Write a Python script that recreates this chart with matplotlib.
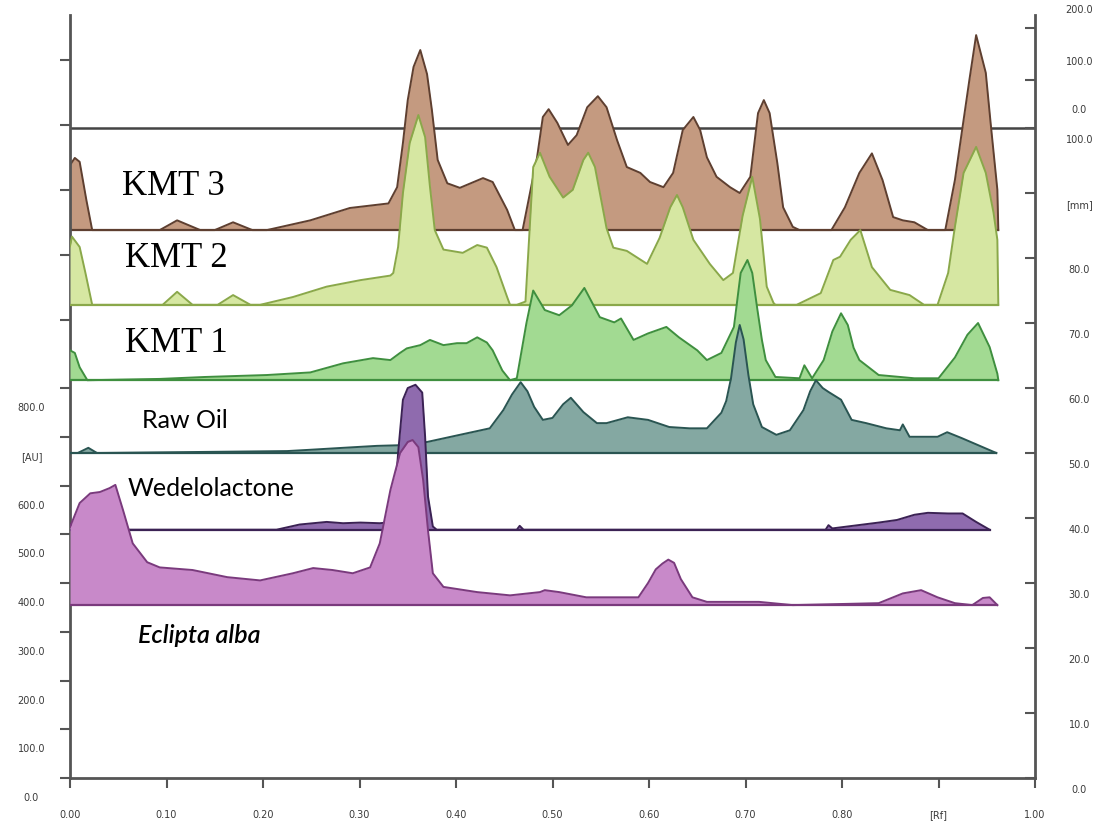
import numpy as np
import matplotlib
matplotlib.use("Agg")
import matplotlib.pyplot as plt

# Rf positions and peak heights (mm above each track's baseline)
kmt3_rf = [0.000, 0.005, 0.010, 0.017, 0.023, 0.093, 0.111, 0.135, 0.150, 0.169, 0.189, 0.204,
           0.249, 0.290, 0.330, 0.339, 0.345, 0.350, 0.356, 0.363, 0.370, 0.375, 0.381, 0.391,
           0.404, 0.428, 0.438, 0.453, 0.461, 0.469, 0.484, 0.490, 0.496, 0.505, 0.516, 0.525,
           0.536, 0.547, 0.556, 0.567, 0.577, 0.591, 0.601, 0.615, 0.625, 0.635, 0.646, 0.653,
           0.660, 0.670, 0.684, 0.694, 0.705, 0.713, 0.719, 0.725, 0.733, 0.739, 0.749, 0.756,
           0.789, 0.803, 0.818, 0.831, 0.842, 0.853, 0.863, 0.875, 0.889, 0.907, 0.917, 0.924,
           0.932, 0.939, 0.949, 0.954, 0.961, 0.962]
kmt3_h = [10.0, 11.1, 10.5, 4.6, 0.0, 0.0, 1.5, 0.0, 0.0, 1.2, 0.0, 0.0,
          1.5, 3.4, 4.1, 6.6, 13.4, 20.0, 25.1, 27.7, 24.0, 18.5, 10.8, 7.2,
          6.5, 8.0, 7.4, 3.1, 0.0, 0.0, 11.2, 17.4, 18.6, 16.5, 13.1, 14.6,
          18.9, 20.6, 18.9, 13.8, 9.7, 8.8, 7.4, 6.6, 8.8, 15.4, 17.4, 15.4,
          11.2, 8.2, 6.6, 5.7, 8.2, 18.0, 20.0, 18.0, 10.3, 3.5, 0.5, 0.0,
          0.0, 3.5, 8.8, 11.8, 7.7, 2.0, 1.5, 1.2, 0.0, 0.0, 7.7, 14.9,
          23.1, 30.0, 24.2, 16.5, 6.2, 0.0]

kmt2_rf = [0.000, 0.002, 0.010, 0.016, 0.023, 0.096, 0.111, 0.127, 0.153, 0.169, 0.187, 0.197,
           0.231, 0.266, 0.301, 0.332, 0.335, 0.340, 0.345, 0.352, 0.361, 0.368, 0.373, 0.378,
           0.387, 0.407, 0.422, 0.432, 0.442, 0.453, 0.456, 0.463, 0.472, 0.480, 0.487, 0.497,
           0.511, 0.521, 0.532, 0.537, 0.544, 0.556, 0.563, 0.577, 0.598, 0.611, 0.622, 0.629,
           0.635, 0.646, 0.663, 0.677, 0.687, 0.697, 0.707, 0.715, 0.722, 0.729, 0.731, 0.753,
           0.778, 0.791, 0.798, 0.809, 0.819, 0.831, 0.850, 0.870, 0.885, 0.899, 0.910, 0.917,
           0.926, 0.939, 0.949, 0.957, 0.961, 0.962]
kmt2_h = [9.0, 10.5, 8.9, 4.9, 0.0, 0.0, 2.0, 0.0, 0.0, 1.5, 0.0, 0.0,
          1.2, 2.8, 3.8, 4.5, 4.9, 8.9, 17.2, 24.9, 29.2, 25.8, 18.2, 11.5,
          8.5, 8.0, 9.2, 8.8, 5.8, 1.2, 0.0, 0.0, 0.5, 21.2, 23.4, 19.7,
          16.5, 17.7, 22.3, 23.4, 21.2, 11.8, 8.8, 8.3, 6.3, 10.3, 15.0, 16.9,
          15.0, 10.0, 6.3, 3.8, 4.9, 13.7, 19.7, 13.2, 2.8, 0.3, 0.0, 0.0,
          1.8, 6.9, 7.4, 10.0, 11.5, 5.8, 2.3, 1.5, 0.0, 0.0, 4.9, 12.0,
          20.3, 24.3, 20.3, 14.2, 10.0, 0.0]

kmt1_rf = [0.000, 0.005, 0.010, 0.018, 0.093, 0.140, 0.204, 0.249, 0.283, 0.314, 0.332, 0.342,
           0.349, 0.363, 0.373, 0.387, 0.401, 0.411, 0.422, 0.432, 0.438, 0.448, 0.456, 0.463,
           0.473, 0.480, 0.492, 0.507, 0.520, 0.533, 0.549, 0.564, 0.571, 0.584, 0.599, 0.618,
           0.631, 0.650, 0.660, 0.675, 0.688, 0.695, 0.702, 0.707, 0.712, 0.717, 0.721, 0.731,
           0.756, 0.761, 0.769, 0.781, 0.790, 0.799, 0.806, 0.812, 0.818, 0.838, 0.875, 0.900,
           0.917, 0.930, 0.941, 0.953, 0.961, 0.962]
kmt1_h = [4.6, 4.2, 2.0, 0.0, 0.2, 0.5, 0.8, 1.2, 2.6, 3.4, 3.1, 4.2,
          4.9, 5.4, 6.2, 5.4, 5.7, 5.7, 6.6, 5.8, 4.6, 1.5, 0.0, 0.3,
          8.8, 13.8, 10.8, 10.0, 11.5, 14.2, 9.7, 8.9, 9.5, 6.2, 7.2, 8.2,
          6.6, 4.6, 3.1, 4.2, 8.2, 16.5, 18.5, 16.5, 11.2, 6.2, 3.1, 0.5,
          0.3, 2.3, 0.3, 3.1, 7.5, 10.3, 8.5, 5.0, 3.1, 0.8, 0.3, 0.3,
          3.5, 7.0, 8.8, 5.1, 1.0, 0.0]

raw_rf = [0.000, 0.008, 0.019, 0.028, 0.225, 0.249, 0.283, 0.318, 0.342, 0.370, 0.404, 0.435,
          0.449, 0.458, 0.467, 0.474, 0.481, 0.490, 0.500, 0.511, 0.519, 0.532, 0.546, 0.556,
          0.578, 0.599, 0.621, 0.642, 0.660, 0.675, 0.680, 0.685, 0.690, 0.694, 0.698, 0.703,
          0.708, 0.717, 0.732, 0.746, 0.760, 0.767, 0.773, 0.780, 0.786, 0.799, 0.810, 0.825,
          0.846, 0.860, 0.863, 0.870, 0.899, 0.909, 0.924, 0.960]
raw_h = [0.0, 0.0, 0.8, 0.0, 0.3, 0.5, 0.8, 1.1, 1.2, 1.7, 2.8, 3.8,
         6.6, 9.0, 10.9, 9.5, 7.1, 5.1, 5.4, 7.5, 8.5, 6.3, 4.6, 4.6,
         5.5, 5.1, 4.0, 3.8, 3.8, 6.2, 8.0, 11.5, 17.0, 19.7, 17.5, 12.0,
         7.5, 4.0, 2.8, 3.5, 6.6, 9.5, 11.2, 10.0, 9.4, 8.2, 5.1, 4.6,
         3.8, 3.5, 4.4, 2.5, 2.5, 3.2, 2.3, 0.0]

wed_rf = [0.000, 0.005, 0.214, 0.238, 0.266, 0.283, 0.301, 0.321, 0.335, 0.340, 0.345, 0.350,
          0.358, 0.365, 0.368, 0.371, 0.376, 0.380, 0.463, 0.466, 0.470, 0.783, 0.786, 0.790,
          0.838, 0.857, 0.875, 0.889, 0.910, 0.925, 0.939, 0.953]
wed_h = [0.8, 0.0, 0.0, 0.8, 1.2, 1.0, 1.1, 1.0, 1.2, 11.8, 20.0, 21.8,
         22.3, 21.1, 14.3, 5.1, 0.5, 0.0, 0.0, 0.6, 0.0, 0.0, 0.7, 0.2,
         1.1, 1.5, 2.3, 2.6, 2.5, 2.5, 1.2, 0.0]

ecl_rf = [0.000, 0.010, 0.021, 0.031, 0.041, 0.047, 0.055, 0.065, 0.080, 0.093, 0.127, 0.163,
          0.197, 0.231, 0.252, 0.272, 0.293, 0.311, 0.321, 0.332, 0.342, 0.350, 0.355, 0.361,
          0.366, 0.371, 0.376, 0.387, 0.422, 0.456, 0.487, 0.492, 0.507, 0.535, 0.589, 0.599,
          0.607, 0.614, 0.620, 0.626, 0.633, 0.645, 0.660, 0.714, 0.749, 0.838, 0.863, 0.882,
          0.899, 0.917, 0.935, 0.946, 0.953, 0.961]
ecl_h = [12.0, 15.7, 17.2, 17.4, 18.0, 18.5, 14.6, 9.5, 6.6, 5.8, 5.4, 4.3,
         3.8, 4.9, 5.7, 5.4, 4.9, 5.8, 9.5, 17.7, 23.4, 25.1, 25.4, 24.3,
         19.2, 11.5, 4.9, 2.8, 2.0, 1.5, 2.0, 2.3, 2.0, 1.2, 1.2, 3.4,
         5.5, 6.4, 7.0, 6.5, 4.0, 1.2, 0.5, 0.5, 0.0, 0.3, 1.8, 2.3,
         1.2, 0.3, 0.0, 1.1, 1.2, 0.0]

au_ticks = [0, 100, 200, 300, 400, 500, 600, 700, 800]
au_labels = ["0.0", "100.0", "200.0", "300.0", "400.0", "500.0", "600.0", "[AU]", "800.0"]
mm_ticks = [0, 10, 20, 30, 40, 50, 60, 70, 80, 90, 100]
mm_labels = ["0.0", "10.0", "20.0", "30.0", "40.0", "50.0", "60.0", "70.0", "80.0", "[mm]", "100.0"]
rf_ticks = [0.0, 0.1, 0.2, 0.3, 0.4, 0.5, 0.6, 0.7, 0.8, 0.9, 1.0]
rf_labels = ["0.00", "0.10", "0.20", "0.30", "0.40", "0.50", "0.60", "0.70", "0.80", "[Rf]", "1.00"]

# baseline of each track (mm on the right scale), fill and edge colours
tracks = [
    (kmt3_rf, kmt3_h, 84.3, "#c49a80", "#5e3f30"),
    (kmt2_rf, kmt2_h, 72.8, "#d6e7a2", "#8aa84a"),
    (kmt1_rf, kmt1_h, 61.2, "#a2da92", "#3f8f3f"),
    (raw_rf, raw_h, 50.0, "#84a8a2", "#2a5552"),
    (wed_rf, wed_h, 38.2, "#8f6bae", "#3b2254"),
    (ecl_rf, ecl_h, 26.6, "#c889c9", "#7a3a7d"),
]

fig = plt.figure(figsize=(10.97, 8.25), dpi=100)
ax = fig.add_axes([70 / 1097, 47 / 825, 965 / 1097, 778 / 825])
ax.set_xlim(0, 1)
ax.set_ylim(0, 119.7)

for i, (rf, h, base, fill, edge) in enumerate(tracks):
    rf = np.array(rf)
    y = base + np.array(h)
    z = 2 + i
    ax.fill_between(rf, base, y, color=fill, lw=0, zorder=z)
    ax.plot(rf, y, color=edge, lw=1.4, zorder=z + 0.1, solid_joinstyle="round")
    ax.plot([rf[0], rf[-1]], [base, base], color=edge, lw=1.6, zorder=z + 0.2)

# top frame line
ax.plot([0, 1], [100, 100], color="#444444", lw=1.8, zorder=1)

# track names
ax.text(0.054, 91.0, "KMT 3", family="Liberation Serif", fontsize=25, va="center", zorder=20)
ax.text(0.057, 79.9, "KMT 2", family="Liberation Serif", fontsize=25, va="center", zorder=20)
ax.text(0.057, 66.8, "KMT 1", family="Liberation Serif", fontsize=25, va="center", zorder=20)
ax.text(0.075, 55.0, "Raw Oil", family="Lato", fontsize=18, va="center", zorder=20)
ax.text(0.060, 44.6, "Wedelolactone", family="Lato", fontsize=18, va="center", zorder=20)
ax.text(0.070, 21.9, "Eclipta alba", family="Lato", fontsize=18, style="italic",
        weight="semibold", va="center", zorder=20)

# spines
ax.spines["top"].set_visible(False)
for side in ["left", "right", "bottom"]:
    ax.spines[side].set_color("#555555")
    ax.spines[side].set_linewidth(2)
ax.spines["left"].set_bounds(0, 117.4)
ax.spines["right"].set_bounds(0, 117.4)

lab_kw = dict(fontsize=7, color="#3a3a3a")

# x axis
ax.set_xticks(rf_ticks)
ax.set_xticklabels(rf_labels)
ax.tick_params(axis="x", direction="out", length=7, width=1.5, color="#555555",
               labelsize=7, labelcolor="#3a3a3a", pad=16)

# left (AU) ticks, labels sit a little below their ticks
left_pos = [a * 0.075 for a in au_ticks] + [70.5, 80.5, 90.5, 100.5, 110.5]
ax.set_yticks(left_pos)
ax.set_yticklabels([])
ax.tick_params(axis="y", direction="out", length=7, width=1.5, color="#555555")
for a, lab in zip(au_ticks, au_labels):
    ax.text(-0.040, a * 0.075 - 3.1, lab, transform=ax.get_yaxis_transform(),
            ha="center", va="center", **lab_kw)

# right (mm) ticks
ax2 = ax.twinx()
ax2.set_ylim(ax.get_ylim())
for side in ["top", "left", "bottom", "right"]:
    ax2.spines[side].set_visible(False)
ax2.set_yticks(mm_ticks + [107.4, 115.4])
ax2.set_yticklabels([])
ax2.tick_params(axis="y", direction="in", length=7, width=1.5, color="#555555")
for m, lab in zip(mm_ticks, mm_labels):
    ax.text(1.046, m - 1.9, lab, transform=ax.get_yaxis_transform(),
            ha="center", va="center", **lab_kw)
ax.text(1.046, 102.8, "0.0", transform=ax.get_yaxis_transform(),
        ha="center", va="center", **lab_kw)
ax.text(1.046, 110.2, "100.0", transform=ax.get_yaxis_transform(),
        ha="center", va="center", **lab_kw)
ax.text(1.046, 118.2, "200.0", transform=ax.get_yaxis_transform(),
        ha="center", va="center", **lab_kw)

fig.savefig("out.png", dpi=100)
